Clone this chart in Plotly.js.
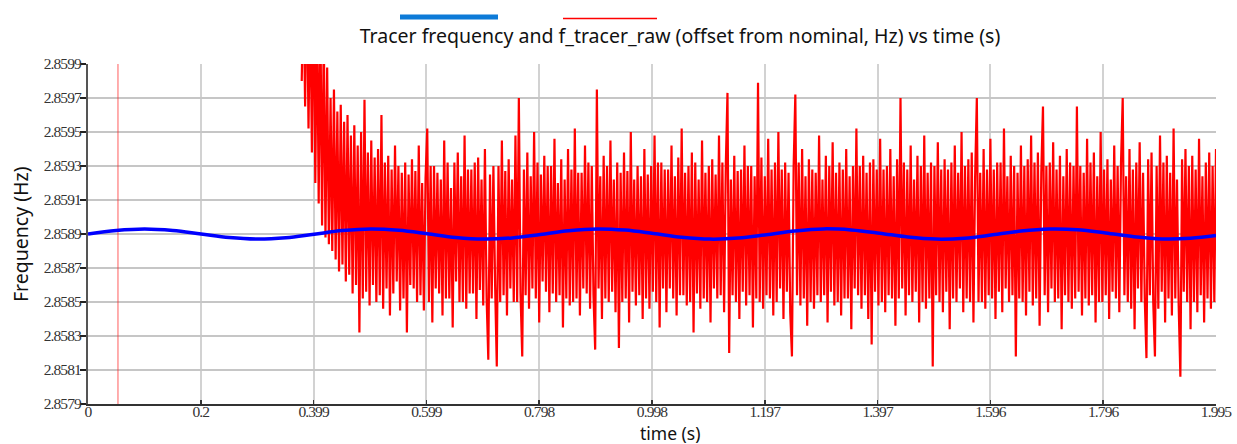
<!DOCTYPE html>
<html>
<head>
<meta charset="utf-8">
<script src="https://cdn.plot.ly/plotly-3.0.1.min.js"></script>
<style>
html,body{margin:0;padding:0;background:#fff;}
#chart{width:1237px;height:444px;}
#chart g.xtick text, #chart g.ytick text{letter-spacing:-0.9px;}
</style>
</head>
<body>
<div id="chart"></div>
<script>
// ---- Data ----
const chartTitle = "Tracer frequency and f_tracer_raw (offset from nominal, Hz) vs time (s)";
const xTitle = "time (s)";
const yTitle = "Frequency (Hz)";

const xTickVals = [0, 0.1995, 0.399, 0.5985, 0.798, 0.9975, 1.197, 1.3965, 1.596, 1.7955, 1.995];
const xTickText = ["0", "0.2", "0.399", "0.599", "0.798", "0.998", "1.197", "1.397", "1.596", "1.796", "1.995"];
const yTickVals = [2.8579, 2.8581, 2.8583, 2.8585, 2.8587, 2.8589, 2.8591, 2.8593, 2.8595, 2.8597, 2.8599];
const yTickText = ["2.8579", "2.8581", "2.8583", "2.8585", "2.8587", "2.8589", "2.8591", "2.8593", "2.8595", "2.8597", "2.8599"];

// Tracer frequency (smooth, blue)
const tracerTime = [0, 0.05, 0.10, 0.15, 0.20, 0.25, 0.30, 0.35, 0.40, 0.45, 0.50, 0.55, 0.60, 0.65, 0.70, 0.75, 0.80, 0.85, 0.90, 0.95,
  1.00, 1.05, 1.10, 1.15, 1.20, 1.25, 1.30, 1.35, 1.40, 1.45, 1.50, 1.55, 1.60, 1.65, 1.70, 1.75, 1.80, 1.85, 1.90, 1.95, 1.995];
const tracerFreq = [2.858900, 2.858921, 2.858930, 2.858921, 2.858900, 2.858879, 2.858870, 2.858878, 2.858899, 2.858920,
  2.858930, 2.858922, 2.858902, 2.858880, 2.858870, 2.858877, 2.858897, 2.858919, 2.858930, 2.858923,
  2.858903, 2.858881, 2.858870, 2.858876, 2.858896, 2.858918, 2.858930, 2.858924, 2.858905, 2.858882,
  2.858870, 2.858875, 2.858895, 2.858917, 2.858929, 2.858925, 2.858906, 2.858884, 2.858871, 2.858875, 2.858891];

// f_tracer_raw (noisy, red): sampled every rawStep seconds from rawStart
const rawStart = 0.378;
const rawStep = 0.003;
const rawFreq = [
  2.8598, 2.8604, 2.85965, 2.8605, 2.85952, 2.86035, 2.85938, 2.86045, 2.85920, 2.86030,
  2.85908, 2.86020, 2.85895, 2.86010, 2.85888, 2.85988, 2.85884, 2.85970, 2.85880, 2.85975,
  2.85875, 2.85962, 2.85868, 2.85966, 2.85872, 2.85956, 2.85862, 2.85960, 2.85866, 2.85948,
  2.85855, 2.85954, 2.85860, 2.85942, 2.85832, 2.85950, 2.85852, 2.85969, 2.85856, 2.85938,
  2.85848, 2.85945, 2.85860, 2.85935, 2.85850, 2.85940, 2.85854, 2.85960, 2.85846, 2.85932,
  2.85858, 2.85936, 2.85842, 2.85928, 2.85855, 2.85942, 2.85862, 2.85930, 2.85845, 2.85926,
  2.85852, 2.85932, 2.85832, 2.85925, 2.85860, 2.85934, 2.85858, 2.85927, 2.85850, 2.85942,
  2.85854, 2.85920, 2.85845, 2.85923, 2.85952, 2.85850, 2.85930, 2.85838, 2.85930, 2.85858,
  2.85926, 2.85855, 2.85922, 2.85842, 2.85945, 2.85852, 2.85932, 2.85852, 2.85917, 2.85835,
  2.85932, 2.85862, 2.85938, 2.85850, 2.85924, 2.85850, 2.85948, 2.85846, 2.85928, 2.85855,
  2.85928, 2.85855, 2.85932, 2.85840, 2.85935, 2.85857, 2.85922, 2.85848, 2.85940, 2.85852,
  2.85816, 2.85925, 2.85852, 2.85930, 2.85860, 2.85812, 2.85930, 2.85850, 2.85945, 2.85854,
  2.85927, 2.85842, 2.85934, 2.85858, 2.85922, 2.85850, 2.85948, 2.85850, 2.85970, 2.85855,
  2.85818, 2.85928, 2.85854, 2.85938, 2.85846, 2.85924, 2.85858, 2.85950, 2.85852, 2.85932,
  2.85838, 2.85925, 2.85862, 2.85936, 2.85856, 2.85930, 2.85844, 2.85930, 2.85855, 2.85946,
  2.85850, 2.85920, 2.85854, 2.85934, 2.85835, 2.85922, 2.85852, 2.85940, 2.85848, 2.85928,
  2.85850, 2.85952, 2.85852, 2.85926, 2.85842, 2.85926, 2.85858, 2.85942, 2.85855, 2.85932,
  2.85846, 2.85930, 2.85854, 2.85822, 2.85975, 2.85858, 2.85924, 2.85840, 2.85936, 2.85852,
  2.85930, 2.85850, 2.85945, 2.85856, 2.85922, 2.85844, 2.85932, 2.85823, 2.85926, 2.85850,
  2.85938, 2.85852, 2.85927, 2.85838, 2.85950, 2.85856, 2.85922, 2.85848, 2.85930, 2.85854,
  2.85924, 2.85840, 2.85940, 2.85852, 2.85925, 2.85846, 2.85930, 2.85856, 2.85948, 2.85850,
  2.85932, 2.85835, 2.85932, 2.85858, 2.85928, 2.85844, 2.85928, 2.85858, 2.85942, 2.85852,
  2.85924, 2.85842, 2.85935, 2.85854, 2.85952, 2.85854, 2.85926, 2.85848, 2.85930, 2.85850,
  2.85938, 2.85832, 2.85932, 2.85855, 2.85922, 2.85846, 2.85945, 2.85852, 2.85926, 2.85850,
  2.85930, 2.85838, 2.85934, 2.85858, 2.85925, 2.85852, 2.85948, 2.85854, 2.85932, 2.85844,
  2.85930, 2.85973, 2.85820, 2.85922, 2.85854, 2.85936, 2.85850, 2.85927, 2.85840, 2.85928,
  2.85856, 2.85942, 2.85848, 2.85930, 2.85854, 2.85930, 2.85835, 2.85924, 2.85852, 2.85979,
  2.85850, 2.85935, 2.85846, 2.85924, 2.85854, 2.85946, 2.85852, 2.85928, 2.85842, 2.85932,
  2.85850, 2.85950, 2.85858, 2.85928, 2.85840, 2.85932, 2.85856, 2.85926, 2.85844, 2.85818,
  2.85930, 2.85972, 2.85854, 2.85932, 2.85848, 2.85940, 2.85852, 2.85924, 2.85836, 2.85934,
  2.85850, 2.85928, 2.85846, 2.85926, 2.85854, 2.85948, 2.85850, 2.85922, 2.85854, 2.85936,
  2.85838, 2.85930, 2.85856, 2.85944, 2.85848, 2.85926, 2.85850, 2.85932, 2.85842, 2.85928,
  2.85852, 2.85940, 2.85852, 2.85924, 2.85834, 2.85930, 2.85858, 2.85952, 2.85854, 2.85930,
  2.85846, 2.85936, 2.85854, 2.85926, 2.85840, 2.85932, 2.85825, 2.85934, 2.85856, 2.85928,
  2.85848, 2.85946, 2.85850, 2.85928, 2.85844, 2.85930, 2.85854, 2.85940, 2.85852, 2.85924,
  2.85836, 2.85934, 2.85852, 2.85970, 2.85858, 2.85932, 2.85842, 2.85928, 2.85854, 2.85942,
  2.85850, 2.85922, 2.85856, 2.85936, 2.85838, 2.85930, 2.85850, 2.85948, 2.85846, 2.85926,
  2.85852, 2.85932, 2.85812, 2.85930, 2.85854, 2.85944, 2.85850, 2.85928, 2.85844, 2.85934,
  2.85856, 2.85928, 2.85834, 2.85932, 2.85852, 2.85942, 2.85850, 2.85926, 2.85858, 2.85950,
  2.85844, 2.85930, 2.85852, 2.85934, 2.85850, 2.85938, 2.85838, 2.85924, 2.85970, 2.85850,
  2.85926, 2.85850, 2.85940, 2.85846, 2.85928, 2.85854, 2.85946, 2.85852, 2.85928, 2.85840,
  2.85932, 2.85856, 2.85932, 2.85844, 2.85952, 2.85858, 2.85924, 2.85850, 2.85936, 2.85854,
  2.85930, 2.85818, 2.85926, 2.85852, 2.85942, 2.85850, 2.85930, 2.85842, 2.85934, 2.85856,
  2.85948, 2.85848, 2.85932, 2.85852, 2.85938, 2.85836, 2.85926, 2.85965, 2.85854, 2.85930,
  2.85844, 2.85932, 2.85858, 2.85944, 2.85850, 2.85928, 2.85852, 2.85936, 2.85834, 2.85924,
  2.85854, 2.85940, 2.85850, 2.85932, 2.85846, 2.85930, 2.85852, 2.85965, 2.85856, 2.85930,
  2.85842, 2.85926, 2.85852, 2.85946, 2.85848, 2.85932, 2.85854, 2.85938, 2.85838, 2.85924,
  2.85850, 2.85950, 2.85850, 2.85928, 2.85854, 2.85934, 2.85840, 2.85922, 2.85856, 2.85942,
  2.85852, 2.85930, 2.85844, 2.85932, 2.85970, 2.85854, 2.85924, 2.85850, 2.85940, 2.85846,
  2.85928, 2.85834, 2.85932, 2.85858, 2.85944, 2.85850, 2.85926, 2.85852, 2.85817, 2.85934,
  2.85854, 2.85938, 2.85850, 2.85818, 2.85930, 2.85846, 2.85948, 2.85856, 2.85932, 2.85838,
  2.85936, 2.85852, 2.85926, 2.85842, 2.85952, 2.85852, 2.85922, 2.85848, 2.85806, 2.85934,
  2.85856, 2.85940, 2.85850, 2.85930, 2.85834, 2.85936, 2.85850, 2.85928, 2.85844, 2.85946,
  2.85854, 2.85924, 2.85838, 2.85932, 2.85852, 2.85938, 2.85846, 2.85930, 2.85850, 2.85940
];

// Single off-scale glitch sample in f_tracer_raw near t = 0.053 s
const glitchTime = [0.053, 0.053];
const glitchFreq = [2.8560, 2.8620];

// ---- Build traces ----
const rawTime = rawFreq.map((_, i) => +(rawStart + i * rawStep).toFixed(4));

const traces = [
  {
    x: glitchTime, y: glitchFreq, type: 'scatter', mode: 'lines',
    line: {color: 'rgba(255,40,40,0.75)', width: 1},
    hoverinfo: 'skip', showlegend: false
  },
  {
    x: rawTime, y: rawFreq, type: 'scatter', mode: 'lines', name: 'f_tracer_raw',
    line: {color: 'rgb(255,0,0)', width: 2.2, simplify: false},
    showlegend: false
  },
  {
    x: tracerTime, y: tracerFreq, type: 'scatter', mode: 'lines', name: 'Tracer frequency',
    line: {color: 'rgb(0,0,255)', width: 3.5, shape: 'spline', smoothing: 1},
    showlegend: false
  }
];

const W = 1237, H = 444, L = 88, R = 21, T = 64, B = 40;
const pw = W - L - R, ph = H - T - B;
const px = v => (v - L) / pw;        // pixel x -> paper x
const py = v => (H - B - v) / ph;    // pixel y -> paper y

const sansFont = {family: 'Noto Sans, Open Sans, sans-serif', size: 19.5, color: '#111'};
const xTitleFont = {family: 'Noto Sans, Open Sans, sans-serif', size: 17.5, color: '#111'};
const serifFont = {family: 'Liberation Serif', size: 15.5, color: '#333'};

const layout = {
  width: W, height: H,
  margin: {l: L, r: R, t: T, b: B, pad: 0},
  paper_bgcolor: '#ffffff',
  plot_bgcolor: '#ffffff',
  showlegend: false,
  title: {
    text: chartTitle,
    font: sansFont,
    x: px(680), xref: 'paper', xanchor: 'center',
    y: 1 - 36 / H, yref: 'container', yanchor: 'middle'
  },
  xaxis: {
    range: [0, 1.995],
    tickmode: 'array', tickvals: xTickVals, ticktext: xTickText,
    showgrid: true, gridcolor: '#d2d2d2', gridwidth: 2,
    zeroline: false,
    showline: true, linecolor: '#333', linewidth: 2,
    ticks: 'inside', ticklen: 4, tickwidth: 1.5, tickcolor: '#333',
    tickfont: serifFont,
    ticklabelstandoff: -8,
    title: {text: '', font: {size: 1}}
  },
  yaxis: {
    range: [2.8579, 2.8599],
    tickmode: 'array', tickvals: yTickVals, ticktext: yTickText,
    showgrid: true, gridcolor: '#c6c6c6', gridwidth: 1.5,
    zeroline: false,
    showline: true, linecolor: '#555', linewidth: 2,
    ticks: 'outside', ticklen: 6, tickwidth: 1.5, tickcolor: '#222',
    tickfont: serifFont,
    ticklabelstandoff: -4,
    title: {text: '', font: {size: 1}}
  },
  annotations: [
    {
      text: xTitle, xref: 'paper', yref: 'paper',
      x: px(670), y: py(433), xanchor: 'center', yanchor: 'middle', showarrow: false,
      font: xTitleFont
    },
    {
      text: yTitle, xref: 'paper', yref: 'paper', textangle: -90,
      x: px(20), y: py(234), xanchor: 'center', yanchor: 'middle', showarrow: false,
      font: sansFont
    }
  ],
  shapes: [
    // legend swatches (no labels in the original)
    {type: 'line', xref: 'paper', yref: 'paper', x0: px(400), x1: px(498), y0: py(17), y1: py(17),
     line: {color: '#0d7bd8', width: 5}},
    {type: 'line', xref: 'paper', yref: 'paper', x0: px(563), x1: px(657), y0: py(18.5), y1: py(18.5),
     line: {color: '#ff0000', width: 1.5}}
  ]
};

Plotly.newPlot('chart', traces, layout, {displayModeBar: false, staticPlot: true});
</script>
</body>
</html>
